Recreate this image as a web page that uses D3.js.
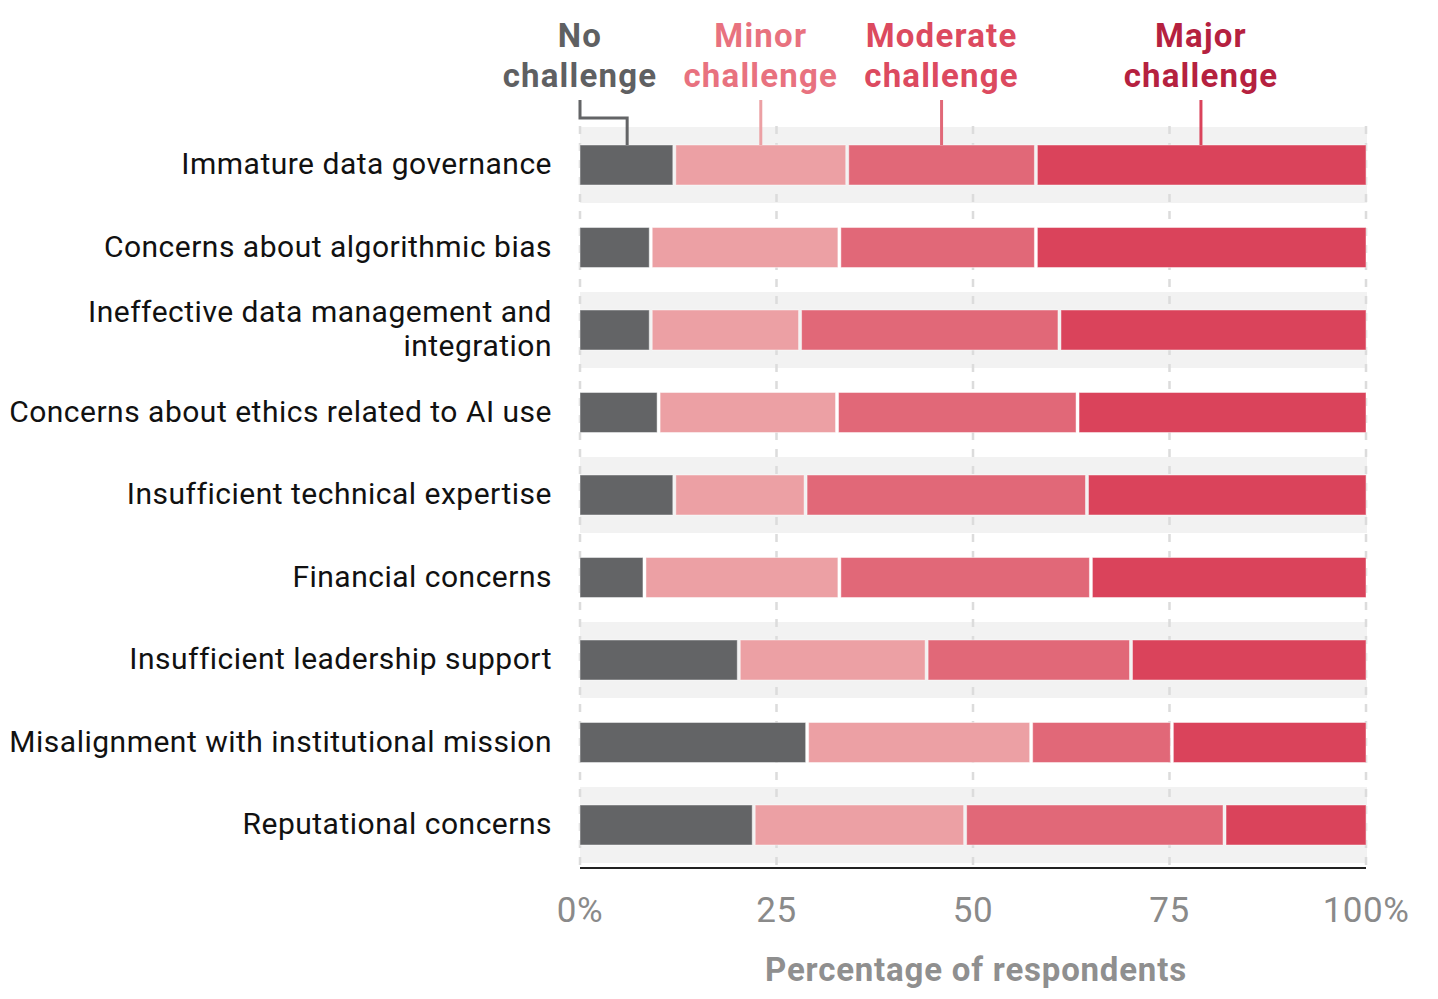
<!DOCTYPE html>
<html>
<head>
<meta charset="utf-8">
<script src="https://cdn.jsdelivr.net/npm/d3@7"></script>
<style>
  body { margin: 0; background: #fff; }
  text { font-family: Roboto, "Noto Sans", sans-serif; }
</style>
</head>
<body>
<div id="chart"></div>
<script>
const categories = [
  "Immature data governance",
  "Concerns about algorithmic bias",
  "Ineffective data management and integration",
  "Concerns about ethics related to AI use",
  "Insufficient technical expertise",
  "Financial concerns",
  "Insufficient leadership support",
  "Misalignment with institutional mission",
  "Reputational concerns"
];
const seriesNames = ["No challenge", "Minor challenge", "Moderate challenge", "Major challenge"];
const noChallenge = [12, 9, 9, 10, 12, 8.2, 20.2, 28.9, 22.1];
const minorChallenge = [22, 24, 19, 22.7, 16.7, 24.8, 23.9, 28.5, 26.9];
const moderateChallenge = [24, 25, 33, 30.6, 35.8, 32, 26, 17.9, 33];
const majorChallenge = [42, 42, 39, 36.7, 35.5, 35, 29.9, 24.7, 18];
const tickValues = [0, 25, 50, 75, 100];
const tickLabels = ["0%", "25", "50", "75", "100%"];

const barColors = ["#636466", "#eca0a4", "#e16878", "#da435b"];
const legendColors = ["#5f6062", "#e8727f", "#dc4a5f", "#b5213f"];

const width = 1438, height = 999;
const svg = d3.select("#chart").append("svg")
  .attr("width", width).attr("height", height);

const x = d3.scaleLinear().domain([0, 100]).range([580, 1366]);
const y = d3.scaleBand().domain(categories).range([123.75, 866.25]);

// stacked data
const rows = categories.map((c, i) => ({
  category: c,
  values: [noChallenge[i], minorChallenge[i], moderateChallenge[i], majorChallenge[i]]
}));
rows.forEach(r => {
  let acc = 0;
  r.segs = r.values.map((v, k) => {
    const s = {k: k, start: acc, end: acc + v};
    acc += v;
    return s;
  });
});

// alternating backgrounds
svg.append("g").selectAll("rect")
  .data(categories.filter((c, i) => i % 2 === 0))
  .enter().append("rect")
  .attr("x", x(0))
  .attr("width", x(100) - x(0) + 1)
  .attr("y", d => y(d) + y.bandwidth() / 2 - 38)
  .attr("height", 76)
  .attr("fill", "#f2f2f2");

// gridlines
svg.append("g").selectAll("line")
  .data(tickValues)
  .enter().append("line")
  .attr("x1", d => x(d)).attr("x2", d => x(d))
  .attr("y1", 126).attr("y2", 866)
  .attr("stroke", "#dcdcdc")
  .attr("stroke-width", 2.5)
  .attr("stroke-dasharray", "8,9");

// bars
const barH = 40;
const rowG = svg.append("g").selectAll("g")
  .data(rows)
  .enter().append("g")
  .attr("transform", d => `translate(0,${y(d.category) + y.bandwidth() / 2 - barH / 2})`);

rowG.selectAll("rect")
  .data(d => d.segs)
  .enter().append("rect")
  .attr("x", d => x(d.start) + (d.k === 0 ? 0 : 1.5))
  .attr("width", d => x(d.end) - x(d.start) - (d.k === 0 ? 1.5 : 3) + (d.k === 3 ? 1.5 : 0))
  .attr("y", 0)
  .attr("height", barH)
  .attr("fill", d => barColors[d.k])
  .attr("stroke", "#ffffff")
  .attr("stroke-opacity", 0.45)
  .attr("stroke-width", 1);

// category labels
const labelG = svg.append("g");
categories.forEach(c => {
  const cy = y(c) + y.bandwidth() / 2;
  const t = labelG.append("text")
    .attr("x", 552)
    .attr("text-anchor", "end")
    .attr("font-size", 30)
    .attr("letter-spacing", 0.5)
    .attr("fill", "#111");
  if (c === "Ineffective data management and integration") {
    t.append("tspan").attr("x", 552).attr("y", cy - 8).text("Ineffective data management and");
    t.append("tspan").attr("x", 552).attr("y", cy + 26).text("integration");
  } else {
    t.attr("y", cy + 9).text(c);
  }
});

// x axis
svg.append("line")
  .attr("x1", x(0)).attr("x2", x(100))
  .attr("y1", 868).attr("y2", 868)
  .attr("stroke", "#222").attr("stroke-width", 2);

svg.append("g").selectAll("text")
  .data(tickValues)
  .enter().append("text")
  .attr("x", d => x(d))
  .attr("y", 922)
  .attr("text-anchor", "middle")
  .attr("font-size", 35)
  .attr("letter-spacing", 0.5)
  .attr("fill", "#8a8a8a")
  .text((d, i) => tickLabels[i]);

svg.append("text")
  .attr("x", 976).attr("y", 981)
  .attr("text-anchor", "middle")
  .attr("font-size", 33)
  .attr("letter-spacing", 0.8)
  .attr("font-weight", "bold")
  .attr("fill", "#8f8f8f")
  .text("Percentage of respondents");

// legend with leader lines to first row
const first = rows[0];
const barTop = y(first.category) + y.bandwidth() / 2 - barH / 2;
const legG = svg.append("g");
first.segs.forEach(s => {
  const mid = x((s.start + s.end) / 2);
  const tx = s.k === 0 ? x(0) : mid;
  const words = seriesNames[s.k].split(" ");
  const t = legG.append("text")
    .attr("text-anchor", "middle")
    .attr("font-size", 33)
    .attr("letter-spacing", 1.2)
    .attr("font-weight", "bold")
    .attr("fill", legendColors[s.k]);
  t.append("tspan").attr("x", tx).attr("y", 47).text(words[0]);
  t.append("tspan").attr("x", tx).attr("y", 87).text(words[1]);
  if (s.k === 0) {
    legG.append("path")
      .attr("d", `M${x(0)},100 V118 H${mid} V${barTop}`)
      .attr("fill", "none")
      .attr("stroke", barColors[0])
      .attr("stroke-width", 3);
  } else {
    legG.append("line")
      .attr("x1", mid).attr("x2", mid)
      .attr("y1", 100).attr("y2", barTop)
      .attr("stroke", barColors[s.k])
      .attr("stroke-width", 3);
  }
});
</script>
</body>
</html>
